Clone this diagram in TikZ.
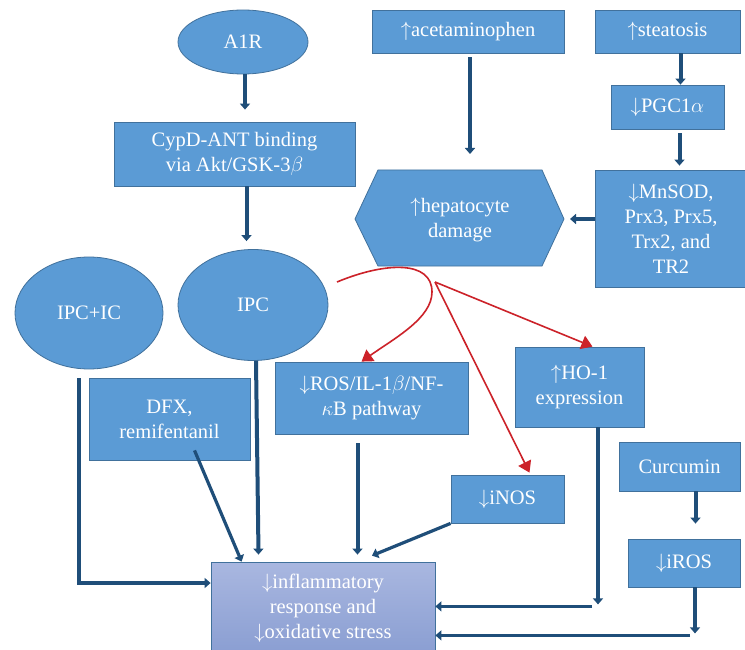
\documentclass[tikz,border=0pt]{standalone}
\usepackage{fontspec}
\setmainfont{Liberation Serif}
\usetikzlibrary{arrows.meta,shapes.geometric,calc}
\definecolor{boxfill}{HTML}{5B9BD5}
\definecolor{boxline}{HTML}{41719C}
\definecolor{arr}{HTML}{1F4E79}
\definecolor{redarr}{HTML}{CC2229}
\definecolor{inftop}{HTML}{A9B7E0}
\definecolor{infbot}{HTML}{8A9ED2}
\begin{document}
\begin{tikzpicture}[x=1pt,y=-1pt,
  box/.style={draw=boxline, line width=0.8pt, fill=boxfill, text=white, align=center,
    inner sep=0pt, font=\fontsize{20.5}{25}\selectfont},
  oval/.style={box, ellipse},
  blarrow/.style={draw=arr, line width=4pt, -{Triangle[length=6pt,width=10pt]}},
  thinarrow/.style={draw=arr, line width=3.2pt, -{Triangle[length=6pt,width=10pt]}},
  redarrow/.style={draw=redarr, line width=1.6pt, -{Triangle[length=11pt,width=14pt]}},
]
\useasboundingbox (0,0) rectangle (745,650);
\fill[white] (0,0) rectangle (745,650);

% nodes
\node[oval, minimum width=130, minimum height=64] (a1r) at (243,42) {A1R};
\node[box, minimum width=241, minimum height=64] (cypd) at (234.5,154) {CypD-ANT binding\\via Akt/GSK-3$\beta$};
\node[oval, minimum width=150, minimum height=111] (ipc) at (253,305) {IPC};
\node[oval, minimum width=148, minimum height=112] (ipcic) at (89,313) {IPC+IC};
\node[box, minimum width=192, minimum height=43] (acet) at (468,31.5) {$\uparrow$acetaminophen};
\node[box, minimum width=145, minimum height=43] (steat) at (667.5,31.5) {$\uparrow$steatosis};
\node[box, minimum width=113, minimum height=44] (pgc) at (667.5,107) {$\downarrow$PGC1$\alpha$};
\node[box, minimum width=152, minimum height=117] (mnsod) at (671,228.5) {$\downarrow$MnSOD,\\Prx3, Prx5,\\Trx2, and\\TR2};

% hexagon
\coordinate (hepR) at (564,219);
\coordinate (hepT) at (470,170);
\fill[boxfill, draw=boxline, line width=0.8pt] (355,219) -- (378,170) -- (542,170) -- (hepR) -- (542,266) -- (378,266) -- cycle;
\node[align=center, text=white, font=\fontsize{20.5}{25}\selectfont] (hep) at (460,220) {$\uparrow$hepatocyte\\damage};

\node[box, minimum width=193, minimum height=72] (ros) at (371.5,398) {$\downarrow$ROS/IL-1$\beta$/NF-\\$\kappa$B pathway};
\node[box, minimum width=129, minimum height=80] (ho1) at (579.5,387) {$\uparrow$HO-1\\expression};
\node[box, minimum width=161, minimum height=82] (dfx) at (169.5,419) {DFX,\\remifentanil};
\node[box, minimum width=121, minimum height=49] (curc) at (679.5,466.5) {Curcumin};
\node[box, minimum width=112, minimum height=48] (iros) at (684,563) {$\downarrow$iROS};
\node[box, minimum width=113, minimum height=48] (inos) at (507.5,499) {$\downarrow$iNOS};
\node[box, top color=inftop, bottom color=infbot, minimum width=224, minimum height=92] (infl) at (323,608)
  {$\downarrow$inflammatory\\response and\\$\downarrow$oxidative stress};

% helper coordinates for off-centre connectors
\coordinate (a1rout) at ($(a1r.south)+(2,0)$);
\coordinate (cypdout) at ($(cypd.south)+(12,0)$);
\coordinate (pgcout) at ($(pgc.south)+(12,0)$);
\coordinate (curcout) at ($(curc.south)+(16,0)$);

% top-left chain
\draw[blarrow, shorten >=12pt] (a1rout) -- (a1rout |- cypd.north);
\draw[blarrow, shorten >=8pt] (cypdout) -- (cypdout |- ipc.north);

% right chain
\draw[blarrow, shorten <=4pt, shorten >=16pt] ($(acet.south)+(2,0)$) -- (hepT);
\draw[blarrow] ($(steat.south)+(13,0)$) -- ($(pgc.north)+(13,0)$);
\draw[blarrow, shorten <=4pt, shorten >=4pt] (pgcout) -- (pgcout |- mnsod.north);
\draw[blarrow, shorten >=6pt] ($(mnsod.west)+(0,-9.5)$) -- (hepR);

% red arrows
\coordinate (redstart) at (337,282);
\coordinate (redfork) at (435,282);
\draw[redarrow] (redstart) .. controls (385,262) and (432,260) .. (432,292)
   .. controls (432,318) and (395,338) .. ($(ros.north)+(-10,0)$);
\draw[redarrow] (redfork) -- ($(ho1.north)+(13,0)$);
\draw[redarrow] (redfork) -- ($(inos.north)+(22,-2)$);

% into inflammatory box
\draw[blarrow] ($(ipcic.south)+(-10,9)$) |- ($(infl.west)+(0,-25)$);
\draw[thinarrow] ($(dfx.south)+(25,-10)$) -- ($(infl.north west)+(31,0)$);
\draw[blarrow, shorten >=7pt] ($(ipc.south)+(3,0)$) -- ($(infl.north west)+(48,0)$);
\draw[blarrow, shorten <=9pt, shorten >=7pt] ($(ros.south)+(-14,0)$) -- ($(infl.north)+(34.5,0)$);
\draw[thinarrow] (inos.south west) -- ($(infl.north)+(49,-6)$);

\coordinate (hoend) at ($(ho1.south)+(18.5,177)$);
\coordinate (hostart) at ($(ho1.south)+(12.5,179)$);
\draw[thinarrow] ($(ho1.south)+(18.5,0)$) -- (hoend);
\draw[thinarrow] (hostart) -- (infl.east |- hostart);

\draw[blarrow, shorten >=15pt] (curcout) -- (curcout |- iros.north);
\coordinate (iroend) at ($(iros.south)+(11,46)$);
\coordinate (irostart) at ($(iros.south)+(6,48)$);
\draw[thinarrow] ($(iros.south)+(11,0)$) -- (iroend);
\draw[thinarrow] (irostart) -- (infl.east |- irostart);
\end{tikzpicture}
\end{document}
